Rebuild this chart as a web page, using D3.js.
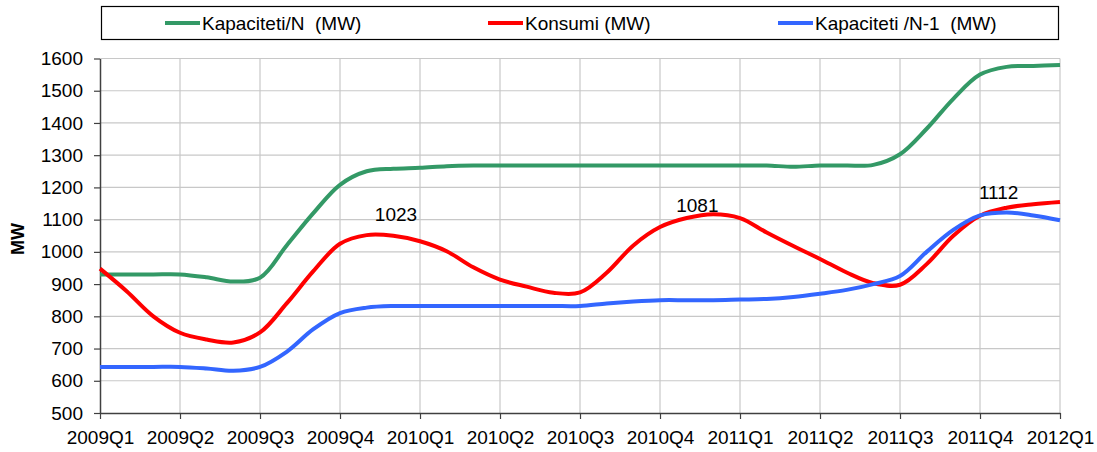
<!DOCTYPE html>
<html>
<head>
<meta charset="utf-8">
<script src="https://cdn.jsdelivr.net/npm/d3@7"></script>
<style>
  body { margin: 0; background: #fff; }
  svg text { font-family: "Liberation Sans", Arial, sans-serif; fill: #000; white-space: pre; }
</style>
</head>
<body>
<div id="chart"></div>
<script>
// quarter labels on the x axis, one tick every 3 months
const quarters = ['2009Q1', '2009Q2', '2009Q3', '2009Q4', '2010Q1', '2010Q2', '2010Q3',
  '2010Q4', '2011Q1', '2011Q2', '2011Q3', '2011Q4', '2012Q1'];
const yTicks = [500, 600, 700, 800, 900, 1000, 1100, 1200, 1300, 1400, 1500, 1600];

// monthly values, 37 points (2009Q1 .. 2012Q1)
const kapacitetiN = [930, 930, 930, 930, 921, 908, 920, 1020, 1120, 1208, 1250, 1258,
  1261, 1266, 1268, 1268, 1268, 1268, 1268, 1268, 1268, 1268, 1268, 1268,
  1268, 1268, 1264, 1268, 1268, 1270, 1303, 1382, 1475, 1550, 1574, 1577, 1580];
const konsumi = [948, 878, 800, 749, 728, 719, 750, 840, 940, 1025, 1052, 1050,
  1033, 1002, 952, 914, 892, 873, 874, 935, 1020, 1077, 1105, 1117,
  1105, 1060, 1018, 978, 936, 903, 898, 962, 1050, 1112, 1137, 1148, 1155];
const kapacitetiN1 = [643, 643, 643, 643, 638, 631, 643, 690, 760, 810, 827, 832,
  832, 832, 832, 832, 832, 832, 832, 840, 846, 850, 850, 850,
  852, 854, 860, 870, 882, 900, 925, 1000, 1068, 1113, 1122, 1113, 1098];

const seriesNames = ['Kapaciteti/N  (MW)', 'Konsumi (MW)', 'Kapaciteti /N-1  (MW)'];
const seriesColors = ['#339966', '#ff0000', '#3366ff'];

// value labels written on the chart (month position, value position)
const noteTexts = ['1023', '1081', '1112'];
const noteMonths = [11.1, 22.4, 33.7];
const noteValues = [1095, 1123, 1163];

const width = 1097;
const height = 452;
const margin = { left: 100, right: 37, top: 58.5, bottom: 39 };
const fontSize = '19px';

const svg = d3.select('#chart')
  .append('svg')
  .attr('width', width)
  .attr('height', height);

const x = d3.scaleLinear()
  .domain([0, 36])
  .range([margin.left, width - margin.right]);
const y = d3.scaleLinear()
  .domain([500, 1600])
  .range([height - margin.bottom, margin.top]);

const tickMonths = quarters.map((q, i) => i * 3);

// grid
svg.append('g')
  .selectAll('line')
  .data(yTicks.slice(1))
  .join('line')
  .attr('x1', x(0)).attr('x2', x(36))
  .attr('y1', d => y(d)).attr('y2', d => y(d))
  .attr('stroke', '#c8c8c8').attr('stroke-width', 1.2);
svg.append('g')
  .selectAll('line')
  .data(tickMonths.slice(1))
  .join('line')
  .attr('x1', d => x(d)).attr('x2', d => x(d))
  .attr('y1', y(500)).attr('y2', y(1600))
  .attr('stroke', '#c8c8c8').attr('stroke-width', 1.2);

// axes
svg.append('g')
  .attr('transform', `translate(${x(0)},0)`)
  .call(d3.axisLeft(y).tickValues(yTicks).tickFormat(d3.format('d'))
    .tickSize(6).tickSizeOuter(0).tickPadding(11))
  .call(g => g.select('.domain').attr('stroke', '#404040').attr('stroke-width', 1.5))
  .call(g => g.selectAll('.tick line').attr('stroke', '#404040').attr('stroke-width', 1.2))
  .call(g => g.selectAll('.tick text')
    .attr('font-size', fontSize)
    .attr('font-family', '"Liberation Sans", Arial, sans-serif')
    .attr('fill', '#000'));

svg.append('g')
  .attr('transform', `translate(0,${y(500)})`)
  .call(d3.axisBottom(x).tickValues(tickMonths).tickFormat((d, i) => quarters[i])
    .tickSize(6).tickSizeOuter(0).tickPadding(12))
  .call(g => g.select('.domain').attr('stroke', '#404040').attr('stroke-width', 1.5))
  .call(g => g.selectAll('.tick line').attr('stroke', '#404040').attr('stroke-width', 1.2))
  .call(g => g.selectAll('.tick text')
    .attr('font-size', fontSize)
    .attr('font-family', '"Liberation Sans", Arial, sans-serif')
    .attr('fill', '#000'));

svg.append('text')
  .attr('transform', `translate(24,${y(1040)}) rotate(-90)`)
  .attr('text-anchor', 'middle')
  .attr('font-size', '18px')
  .attr('font-weight', 'bold')
  .text('MW');

// lines
const line = d3.line()
  .x((d, i) => x(i))
  .y(d => y(d))
  .curve(d3.curveCatmullRom.alpha(0.5));

const allSeries = [kapacitetiN, konsumi, kapacitetiN1];
svg.append('g')
  .selectAll('path')
  .data(allSeries)
  .join('path')
  .attr('d', d => line(d))
  .attr('fill', 'none')
  .attr('stroke', (d, i) => seriesColors[i])
  .attr('stroke-width', 4)
  .attr('stroke-linejoin', 'round');

// notes
svg.append('g')
  .selectAll('text')
  .data(noteTexts)
  .join('text')
  .attr('x', (d, i) => x(noteMonths[i]))
  .attr('y', (d, i) => y(noteValues[i]))
  .attr('text-anchor', 'middle')
  .attr('font-size', fontSize)
  .text(d => d);

// legend
const legend = svg.append('g');
legend.append('rect')
  .attr('x', 101.5).attr('y', 6.5)
  .attr('width', 957).attr('height', 33)
  .attr('fill', '#fff')
  .attr('stroke', '#000').attr('stroke-width', 1.2);

const legendX = [165, 488, 778];
const items = legend.selectAll('g.item')
  .data(seriesNames)
  .join('g')
  .attr('class', 'item')
  .attr('transform', (d, i) => `translate(${legendX[i]},23)`);
items.append('line')
  .attr('x1', 0).attr('x2', 35)
  .attr('stroke', (d, i) => seriesColors[i])
  .attr('stroke-width', 4);
items.append('text')
  .attr('x', 37)
  .attr('dy', '0.35em')
  .attr('font-size', fontSize)
  .text(d => d);
</script>
</body>
</html>
